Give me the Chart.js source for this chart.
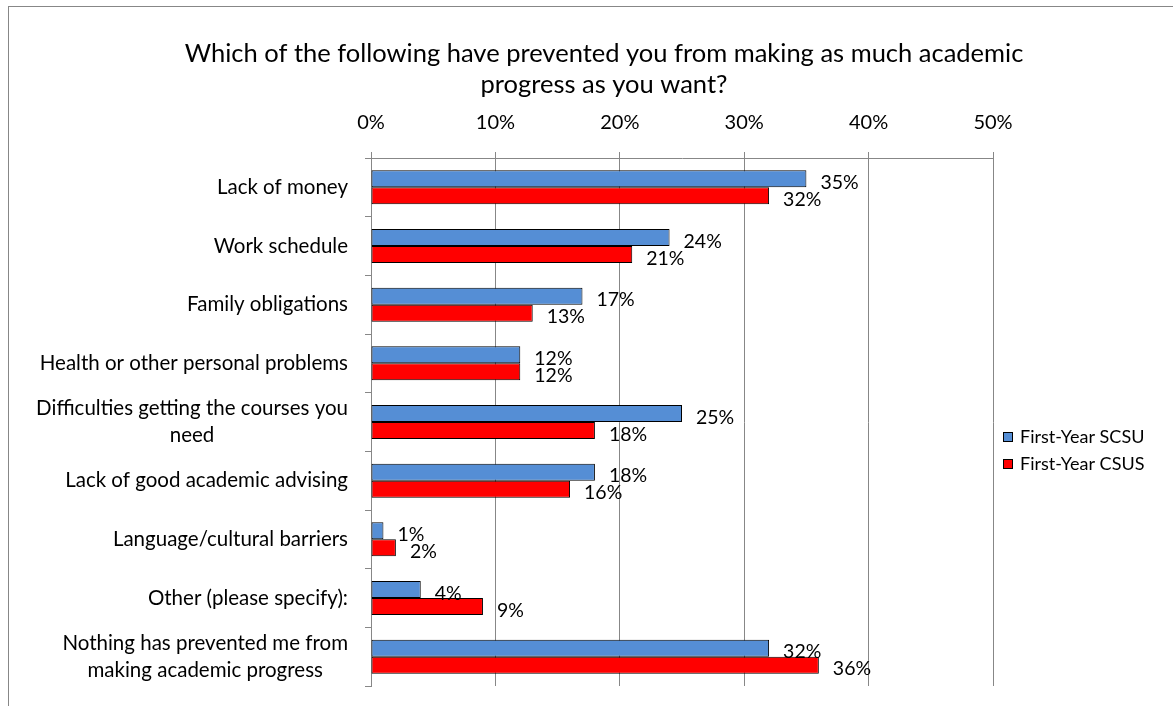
<!DOCTYPE html>
<html>
<head>
<meta charset="utf-8">
<title>Academic progress barriers</title>
<script src="https://cdn.jsdelivr.net/npm/chart.js@4/dist/chart.umd.min.js"></script>
<style>
  html, body { margin: 0; padding: 0; background: #fff; }
  canvas { display: block; }
</style>
</head>
<body>
<canvas id="chart" width="1173" height="706"></canvas>
<script>
'use strict';

const titleLines = [
    'Which of the following have prevented you from making as much academic',
    'progress as you want?'
];

const categories = [
    ['Lack of money'],
    ['Work schedule'],
    ['Family obligations'],
    ['Health or other personal problems'],
    ['Difficulties getting the courses you', 'need'],
    ['Lack of good academic advising'],
    ['Language/cultural barriers'],
    ['Other (please specify):'],
    ['Nothing has prevented me from', 'making academic progress']
];

const scsuValues = [35, 24, 17, 12, 25, 18, 1, 4, 32];
const csusValues = [32, 21, 13, 12, 18, 16, 2, 9, 36];

const seriesNames = ['First-Year SCSU', 'First-Year CSUS'];
const seriesColors = ['#558ed5', '#ff0000'];

const xTicks = [0, 10, 20, 30, 40, 50];

const FONT = 'Lato, "Open Sans", sans-serif';
const GRID = '#878787';

// frame, title, category names, value labels and legend
const decorations = {
    id: 'decorations',
    afterDraw(chart) {
        const ctx = chart.ctx;
        const yScale = chart.scales.y;
        ctx.save();

        ctx.strokeStyle = GRID;
        ctx.lineWidth = 1;
        ctx.strokeRect(8.5, 6.5, 1300, 900);

        ctx.fillStyle = '#000';
        ctx.font = '25.5px ' + FONT;
        ctx.textAlign = 'center';
        ctx.textBaseline = 'middle';
        titleLines.forEach((line, i) => ctx.fillText(line, 604, 54 + i * 31));

        // category names: block right aligned, lines centred inside the block
        ctx.font = '20.5px ' + FONT;
        categories.forEach((lines, i) => {
            const y = yScale.getPixelForTick(i);
            const w = Math.max(...lines.map(l => ctx.measureText(l).width));
            const cx = 348 - w / 2;
            const y0 = y - (lines.length - 1) * 27 / 2;
            lines.forEach((l, j) => ctx.fillText(l, cx, y0 + j * 27));
        });

        // value labels just past the bar ends
        ctx.textAlign = 'left';
        ctx.font = '19.5px ' + FONT;
        chart.data.datasets.forEach((ds, di) => {
            chart.getDatasetMeta(di).data.forEach((bar, i) => {
                ctx.fillText(ds.data[i] + '%', bar.x + 14, bar.y + 4);
            });
        });

        // legend
        ctx.font = '18px ' + FONT;
        seriesNames.forEach((name, i) => {
            const y = 437 + i * 27;
            ctx.fillStyle = seriesColors[i];
            ctx.fillRect(1003, y - 5, 10, 10);
            ctx.strokeStyle = '#000';
            ctx.strokeRect(1003.5, y - 4.5, 9, 9);
            ctx.fillStyle = '#000';
            ctx.fillText(name, 1020, y);
        });

        ctx.restore();
    }
};

new Chart(document.getElementById('chart'), {
    type: 'bar',
    data: {
        labels: categories,
        datasets: [
            {
                label: seriesNames[0],
                data: scsuValues,
                backgroundColor: seriesColors[0],
                borderColor: '#000',
                borderWidth: 1,
                borderSkipped: false
            },
            {
                label: seriesNames[1],
                data: csusValues,
                backgroundColor: seriesColors[1],
                borderColor: '#000',
                borderWidth: 1,
                borderSkipped: false
            }
        ]
    },
    options: {
        indexAxis: 'y',
        responsive: false,
        animation: false,
        events: [],
        layout: { padding: { top: 0, left: 0, right: 180, bottom: 20 } },
        datasets: { bar: { categoryPercentage: 0.58, barPercentage: 1 } },
        plugins: {
            legend: { display: false },
            tooltip: { enabled: false }
        },
        scales: {
            x: {
                position: 'top',
                min: 0,
                max: 50,
                afterBuildTicks(scale) {
                    scale.ticks = xTicks.map(v => ({ value: v }));
                },
                afterFit(scale) { scale.height = 158; },
                ticks: {
                    color: '#000',
                    padding: 17,
                    font: { family: FONT, size: 20 },
                    callback: v => v + '%'
                },
                grid: { color: GRID, tickLength: 6 },
                border: { color: GRID }
            },
            y: {
                afterFit(scale) { scale.width = 371; },
                ticks: { display: false },
                grid: { color: GRID, tickLength: 6, drawOnChartArea: false, offset: true },
                border: { color: GRID }
            }
        }
    },
    plugins: [decorations]
});
</script>
</body>
</html>
